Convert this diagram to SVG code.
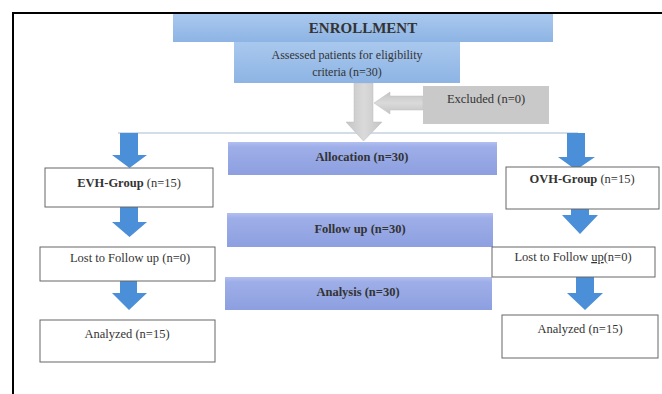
<svg xmlns="http://www.w3.org/2000/svg" width="662" height="394" viewBox="0 0 662 394">
<defs>
<linearGradient id="gEnr" x1="0" y1="0" x2="0" y2="1">
<stop offset="0" stop-color="#a9c8ee"/><stop offset="1" stop-color="#8db4e4"/>
</linearGradient>
<linearGradient id="gBar" x1="0" y1="0" x2="0" y2="1">
<stop offset="0" stop-color="#b3bff0"/><stop offset="0.15" stop-color="#9eaee8"/><stop offset="1" stop-color="#8d9fe0"/>
</linearGradient>
<linearGradient id="gGray" x1="0" y1="0" x2="1" y2="0">
<stop offset="0" stop-color="#c4c4c4"/><stop offset="0.5" stop-color="#dadada"/><stop offset="1" stop-color="#c4c4c4"/>
</linearGradient>
<linearGradient id="gGrayH" x1="0" y1="0" x2="0" y2="1">
<stop offset="0" stop-color="#c4c4c4"/><stop offset="0.5" stop-color="#dadada"/><stop offset="1" stop-color="#c4c4c4"/>
</linearGradient>
</defs>
<style>
text{font-family:"Liberation Serif","Times New Roman",serif;fill:#333;text-anchor:middle}
.t{font-size:12.5px}
.b{font-weight:bold}
.box{fill:#fff;stroke:#666;stroke-width:1}
.bar{fill:url(#gBar)}
.blue{fill:#4a8fd8}
</style>
<rect width="662" height="394" fill="#fff"/>
<g id="frame">
<line x1="13" y1="13" x2="662" y2="13" stroke="#000" stroke-width="2"/>
<line x1="13" y1="12" x2="13" y2="394" stroke="#000" stroke-width="2"/>
</g>
<g id="connectors">
<line x1="118" y1="133" x2="578" y2="133" stroke="#d2dde8" stroke-width="2"/>
<polygon points="354,83 373,83 373,122 382,122 363.5,141 346,122 354,122" fill="url(#gGray)" stroke="#bdbdbd" stroke-width="0.5"/>
<polygon points="423,96 390,96 390,92 374,103 390,114 390,110 423,110" fill="url(#gGrayH)" stroke="#bdbdbd" stroke-width="0.5"/>
<polygon class="blue" points="120,133 138,133 138,155 147,155 129.5,168 112,155 120,155"/>
<polygon class="blue" points="120,207 138,207 138,222 147,222 129.5,237 112,222 120,222"/>
<polygon class="blue" points="120,273 137,273 137,293 147,293 129,310 112,293 120,293"/>
<polygon class="blue" points="567,133 585,133 585,157 595,157 576,170 558,157 567,157"/>
<polygon class="blue" points="571,192 589,192 589,215 598,215 580,234 562,215 571,215"/>
<polygon class="blue" points="576,270 594,270 594,293 603,293 585,310 567,293 576,293"/>
</g>
<g id="enrollment">
<rect x="173" y="14" width="380" height="28" fill="url(#gEnr)"/>
<text x="363" y="33" class="b" style="font-size:15px">ENROLLMENT</text>
</g>
<g id="assessed">
<rect x="234" y="42" width="226" height="41" fill="url(#gEnr)"/>
<text x="347" y="59" style="font-size:12px">Assessed patients for eligibility</text>
<text x="347" y="76" style="font-size:12px">criteria (n=30)</text>
</g>
<g id="excluded">
<rect x="423" y="86" width="126" height="38" fill="#c9c9c9"/>
<text x="486" y="103" class="t">Excluded (n=0)</text>
</g>
<g id="allocation">
<rect x="228" y="142" width="269" height="33" class="bar"/>
<text x="362" y="161" class="t b">Allocation (n=30)</text>
</g>
<g id="followup">
<rect x="227" y="213" width="266" height="34" class="bar"/>
<text x="360" y="233" class="t b">Follow up (n=30)</text>
</g>
<g id="analysis">
<rect x="225" y="277" width="267" height="33" class="bar"/>
<text x="358" y="296" class="t b">Analysis (n=30)</text>
</g>
<g id="evh">
<rect x="45" y="168" width="168" height="39" class="box"/>
<text x="129" y="187" class="t"><tspan class="b">EVH-Group</tspan> (n=15)</text>
</g>
<g id="lost-left">
<rect x="40" y="247" width="175" height="34" class="box"/>
<text x="130" y="262" class="t">Lost to Follow up (n=0)</text>
</g>
<g id="analyzed-left">
<rect x="40" y="320" width="175" height="42" class="box"/>
<text x="127" y="338" class="t">Analyzed (n=15)</text>
</g>
<g id="ovh">
<rect x="506" y="167" width="153" height="42" class="box"/>
<text x="582" y="183" class="t"><tspan class="b">OVH-Group</tspan> (n=15)</text>
</g>
<g id="lost-right">
<rect x="492" y="247" width="163" height="30" class="box"/>
<text x="573" y="261" class="t">Lost to Follow <tspan text-decoration="underline">up</tspan>(n=0)</text>
</g>
<g id="analyzed-right">
<rect x="502" y="315" width="156" height="43" class="box"/>
<text x="580" y="333" class="t">Analyzed (n=15)</text>
</g>
</svg>
